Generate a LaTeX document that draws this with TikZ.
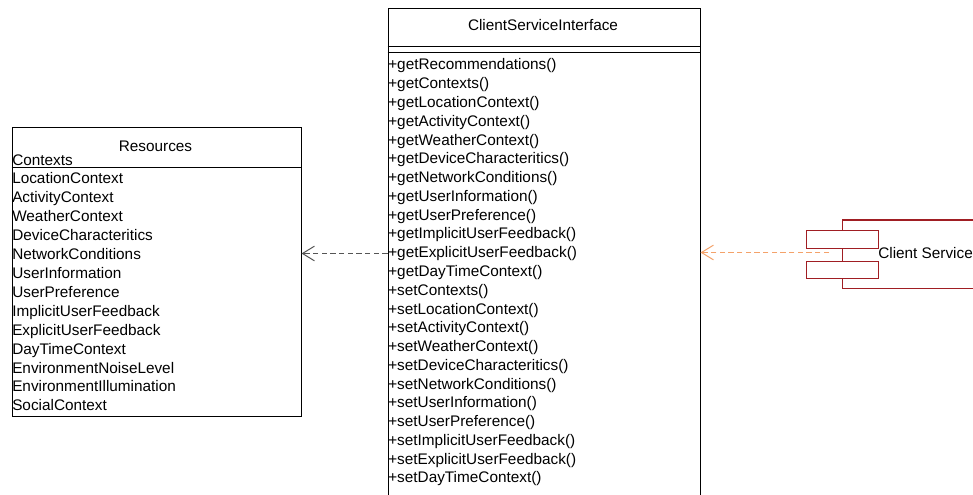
\documentclass[tikz,border=0pt]{standalone}
\usepackage{fontspec}
\setmainfont{Liberation Sans}
\usetikzlibrary{arrows.meta}
\definecolor{compred}{RGB}{160,30,35}
\definecolor{deporange}{RGB}{244,162,106}
\definecolor{depgray}{RGB}{85,85,85}
\begin{document}
\begin{tikzpicture}[x=0.75pt,y=-0.75pt,font=\fontsize{11.5}{13}\selectfont,
  box/.style={draw,line width=0.75pt,inner sep=0pt,anchor=north west},
  cbox/.style={draw=compred,line width=0.9pt,inner sep=0pt,anchor=north west},
  txt/.style={inner sep=0pt,anchor=west,text height=8.5pt,text depth=2.5pt},
  ttl/.style={inner sep=0pt,text height=8.5pt,text depth=2.5pt},
  dep/.style={line width=0.75pt,dash pattern=on 4pt off 2.5pt,-{Straight Barb[length=9pt,width=11pt]}}]
\useasboundingbox[fill=white] (0,0) rectangle (973,495);
% Resources class
\node[box,minimum width=216.75pt,minimum height=216pt] (res) at (11.5,127.5) {};
\draw[line width=0.75pt] (res.west |- 0,167.5) -- (res.east |- 0,167.5);
\node[ttl] (restitle) at (155.5,148) {Resources};
\node[txt] (resattr) at (12,162) {Contexts};
\foreach \t [count=\i] in {LocationContext,ActivityContext,WeatherContext,DeviceCharacteritics,NetworkConditions,UserInformation,UserPreference,ImplicitUserFeedback,ExplicitUserFeedback,DayTimeContext,EnvironmentNoiseLevel,EnvironmentIllumination,SocialContext}
  \node[txt] (r\i) at (12,{180+(\i-1)*18.9}) {\t};
% ClientServiceInterface
\node[box,minimum width=234pt,minimum height=384pt] (csi) at (387.5,8.5) {};
\draw[line width=0.75pt] (csi.west |- 0,46.5) -- (csi.east |- 0,46.5);
\draw[line width=0.75pt] (csi.west |- 0,52.5) -- (csi.east |- 0,52.5);
\node[ttl] (csititle) at (543,27) {ClientServiceInterface};
\foreach \t [count=\i] in {getRecommendations,getContexts,getLocationContext,getActivityContext,getWeatherContext,getDeviceCharacteritics,getNetworkConditions,getUserInformation,getUserPreference,getImplicitUserFeedback,getExplicitUserFeedback,getDayTimeContext,setContexts,setLocationContext,setActivityContext,setWeatherContext,setDeviceCharacteritics,setNetworkConditions,setUserInformation,setUserPreference,setImplicitUserFeedback,setExplicitUserFeedback,setDayTimeContext}
  \node[txt] (m\i) at (388,{66+(\i-1)*18.77}) {+\t()};
% Component
\node[cbox,minimum width=119.25pt,minimum height=51pt] (comp) at (841.5,219.5) {};
\node[cbox,fill=white,minimum width=54pt,minimum height=13.5pt] (port1) at (805.5,229.5) {};
\node[cbox,fill=white,minimum width=54pt,minimum height=12.75pt] (port2) at (805.5,260.5) {};
\node[txt] (cstext) at (878,254) {Client Service};
\coordinate (csend) at (829,252.5);
% Dependencies
\coordinate (lefty) at (0,253.5);
\draw[dep,draw=depgray] (csi.west |- lefty) -- (res.east |- lefty);
\draw[dep,draw=deporange] (csend) -- (csi.east |- csend);
\end{tikzpicture}
\end{document}
